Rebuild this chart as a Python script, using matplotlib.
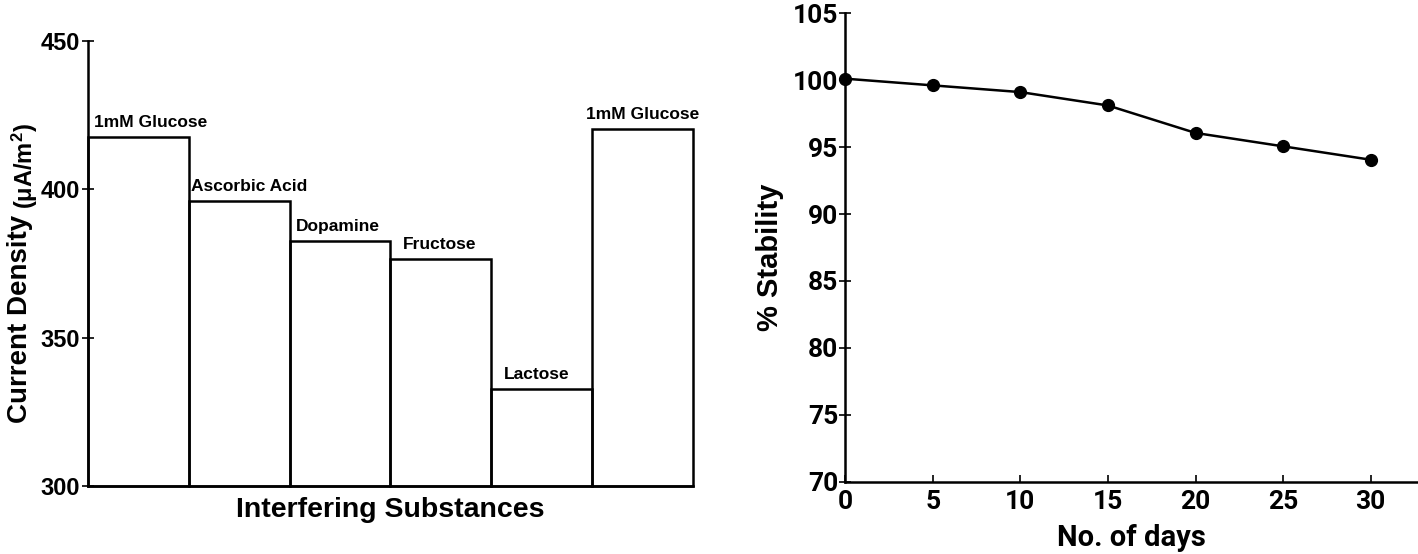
import numpy as np
import matplotlib.pyplot as plt

# Left panel: interference study
substances = ["1mM Glucose", "Ascorbic Acid", "Dopamine", "Fructose", "Lactose", "1mM Glucose"]
current_density = [417.6, 396.1, 382.6, 376.5, 332.7, 420.3]
cd_ticks = [300, 350, 400, 450]

# Right panel: stability over time
days = [0, 5, 10, 15, 20, 25, 30]
stability = [100.1, 99.6, 99.1, 98.1, 96.05, 95.05, 94.05]
stab_ticks = [70, 75, 80, 85, 90, 95, 100, 105]
day_ticks = [0, 5, 10, 15, 20, 25, 30]

plt.rcParams["font.family"] = ["Liberation Sans", "DejaVu Sans"]
plt.rcParams["font.weight"] = "bold"
plt.rcParams["mathtext.default"] = "regular"

fig = plt.figure(figsize=(14.18, 5.54), dpi=100)

# ---- left ----
ax1 = fig.add_axes([0.062, 0.1227, 0.4267, 0.8033])
base = cd_ticks[0]
xpos = np.arange(len(substances))
ax1.bar(xpos, np.array(current_density) - base, bottom=base, width=1.0, align="edge",
        fill=False, edgecolor="black", linewidth=1.8, clip_on=False)
# label centres (in bar units) as placed in the original figure
label_x = [0.625, 1.60, 2.475, 3.49, 4.455, 5.5]
for lx, val, name in zip(label_x, current_density, substances):
    ax1.annotate(name, (lx, val), xytext=(0, 5), textcoords="offset points",
                 ha="center", va="bottom", fontsize=12.5, fontweight="bold")
ax1.set_xlim(0, len(substances))
ax1.set_ylim(cd_ticks[0], cd_ticks[-1])
ax1.set_yticks(cd_ticks)
ax1.set_xticks([])
ax1.tick_params(axis="y", direction="inout", length=8, width=1.2, labelsize=17, pad=2)
for lab in ax1.get_yticklabels():
    lab.set_fontweight("bold")
ax1.spines[["top", "right"]].set_visible(False)
ax1.spines[["left", "bottom"]].set_linewidth(1.8)
# y label in two sizes, like the original
ax1.text(-0.113, 0.142, "Current Density", rotation=90, ha="center", va="bottom",
         transform=ax1.transAxes, fontsize=20, fontweight="bold")
ax1.text(-0.104, 0.622, "(\u03bcA/m$^{2}$)", rotation=90, ha="center", va="bottom",
         transform=ax1.transAxes, fontsize=17, fontweight="bold")
ax1.set_xlabel("Interfering Substances", fontsize=20.5, fontweight="bold", labelpad=8)

# ---- right ----
ax2 = fig.add_axes([0.596, 0.13, 0.404, 0.8465])
ax2.plot(days, stability, color="black", linewidth=1.8, marker="o", markersize=8.5,
         clip_on=False, zorder=3)
ax2.set_xlim(0, 32.7)
ax2.set_ylim(stab_ticks[0], stab_ticks[-1])
ax2.set_yticks(stab_ticks)
ax2.set_xticks(day_ticks)
narrow = ["Roboto", "Liberation Sans"]
ax2.tick_params(axis="y", direction="inout", length=8, width=1.2, labelsize=19, pad=1)
ax2.tick_params(axis="x", direction="in", length=5, width=1.2, labelsize=19, pad=6)
for lab in ax2.get_yticklabels() + ax2.get_xticklabels():
    lab.set_fontweight("bold")
    lab.set_family(narrow)
ax2.spines[["top", "right"]].set_visible(False)
ax2.spines[["left", "bottom"]].set_linewidth(1.8)
ax2.set_ylabel("% Stability", fontsize=21, fontweight="bold")
ax2.yaxis.set_label_coords(-0.106, 0.48)
ax2.set_xlabel("No. of days", fontsize=21, fontweight="bold", family=narrow)
ax2.xaxis.set_label_coords(0.5, -0.09)

fig.savefig("out.png", dpi=100)
